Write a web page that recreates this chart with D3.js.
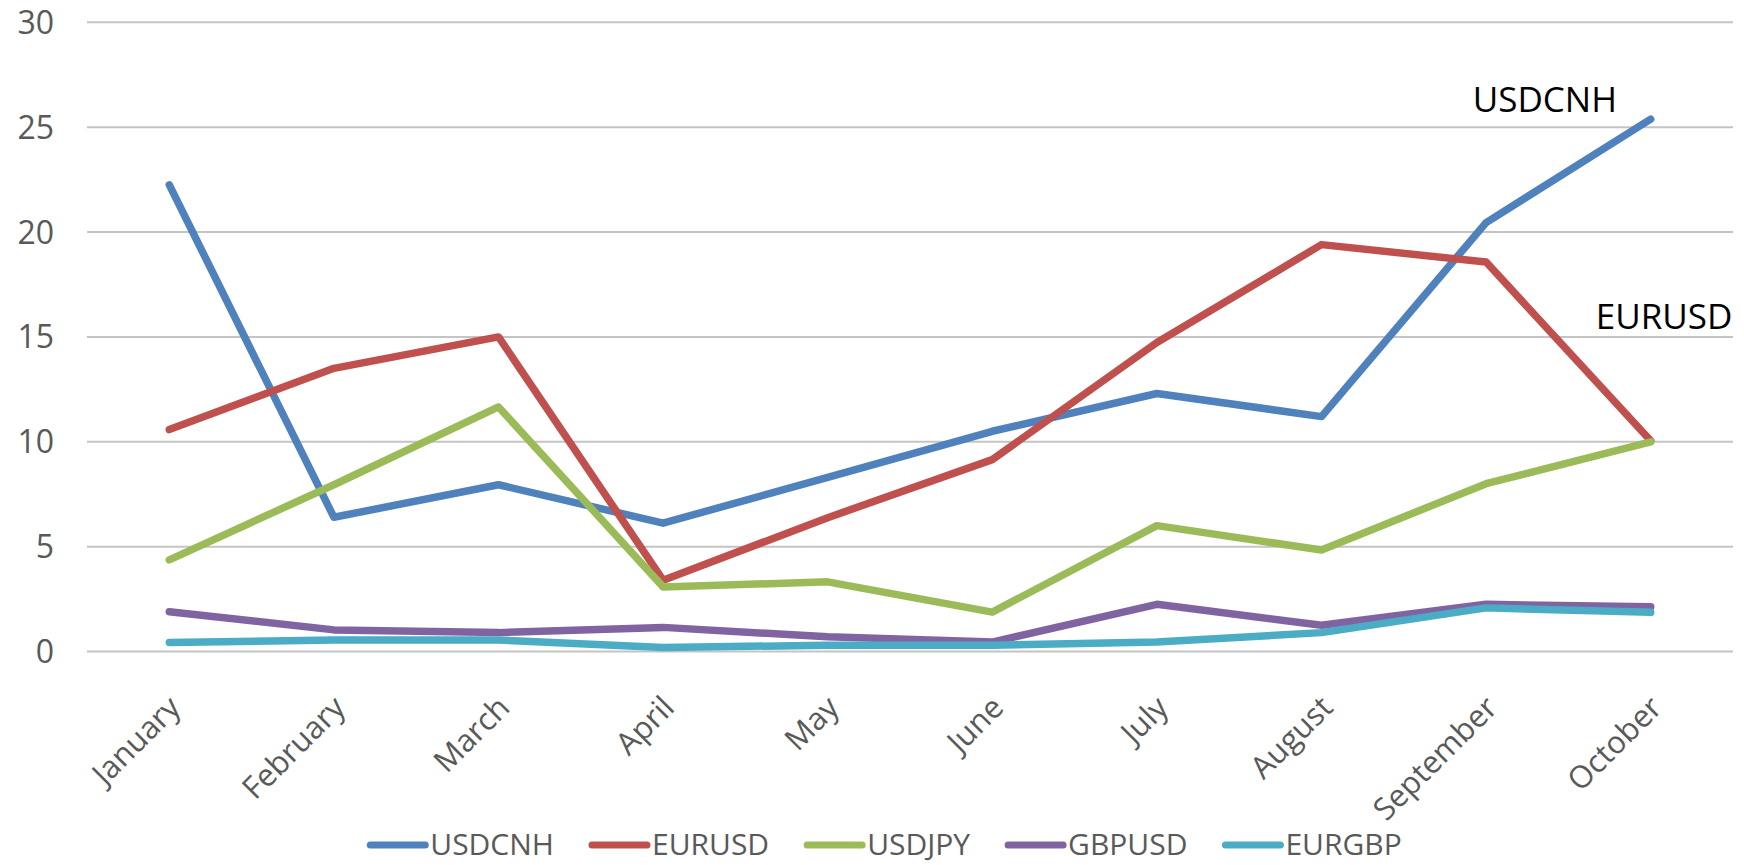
<!DOCTYPE html>
<html>
<head>
  <style>
    body {
      margin: 0;
      background: white;
    }
    text {
      font-family: "Open Sans", sans-serif;
    }
  </style>
</head>
<body>
  <script src="https://d3js.org/d3.v7.min.js"></script>
  <script>
    var width = 1744, height = 865;

    var months = ["January", "February", "March", "April", "May", "June",
                  "July", "August", "September", "October"];
    var seriesNames = ["USDCNH", "EURUSD", "USDJPY", "GBPUSD", "EURGBP"];
    var colors = ["#4f81bd", "#c0504d", "#9bbb59", "#8064a2", "#4bacc6"];

    var usdcnh = [22.25, 6.4, 7.95, 6.12, 8.3, 10.5, 12.3, 11.2, 20.45, 25.38];
    var eurusd = [10.58, 13.5, 15.0, 3.4, 6.38, 9.15, 14.73, 19.4, 18.57, 10.05];
    var usdjpy = [4.37, 7.95, 11.66, 3.08, 3.32, 1.88, 6.0, 4.84, 8.0, 10.0];
    var gbpusd = [1.9, 1.03, 0.9, 1.15, 0.7, 0.45, 2.25, 1.25, 2.25, 2.13];
    var eurgbp = [0.43, 0.55, 0.55, 0.19, 0.3, 0.3, 0.45, 0.9, 2.08, 1.87];
    var allValues = [usdcnh, eurusd, usdjpy, gbpusd, eurgbp];

    var yTicks = [0, 5, 10, 15, 20, 25, 30];

    // labels written next to the two biggest movers
    var notes = [
      {name: "USDCNH", month: "October", value: 25.38, dx: -178, dy: -7},
      {name: "EURUSD", month: "October", value: 15.4, dx: -55, dy: 0}
    ];

    var margin = {left: 87, right: 11, top: 22.3, bottom: 213.5};

    var svg = d3.select("body").append("svg")
        .attr("width", width)
        .attr("height", height);

    var x = d3.scalePoint()
        .domain(months)
        .range([margin.left, width - margin.right])
        .padding(0.5);

    var y = d3.scaleLinear()
        .domain([0, 30])
        .range([height - margin.bottom, margin.top]);

    // gridlines
    svg.append("g")
      .selectAll("line")
        .data(yTicks)
      .enter().append("line")
        .attr("x1", margin.left)
        .attr("x2", width - margin.right)
        .attr("y1", d => y(d))
        .attr("y2", d => y(d))
        .style("stroke", "#c4c4c4")
        .style("stroke-width", 2);

    // y axis labels
    svg.append("g")
      .selectAll("text")
        .data(yTicks)
      .enter().append("text")
        .attr("x", 54)
        .attr("y", d => y(d))
        .attr("dy", "0.36em")
        .attr("text-anchor", "end")
        .style("font-size", "32px")
        .style("fill", "#595959")
        .text(d => d);

    // month labels, turned 45 degrees
    svg.append("g")
      .selectAll("text")
        .data(months)
      .enter().append("text")
        .attr("transform", d => "translate(" + (x(d) + 13) + "," + (y(0) + 58) + ") rotate(-45)")
        .attr("text-anchor", "end")
        .style("font-size", "31px")
        .style("fill", "#595959")
        .text(d => d);

    var line = d3.line()
        .x((d, i) => x(months[i]))
        .y(d => y(d));

    svg.append("g")
      .selectAll("path")
        .data(allValues)
      .enter().append("path")
        .attr("d", d => line(d))
        .style("fill", "none")
        .style("stroke", (d, i) => colors[i])
        .style("stroke-width", 7.5)
        .style("stroke-linecap", "round")
        .style("stroke-linejoin", "round");

    // notes
    svg.append("g")
      .selectAll("text")
        .data(notes)
      .enter().append("text")
        .attr("x", d => x(d.month) + d.dx)
        .attr("y", d => y(d.value) + d.dy)
        .style("font-size", "35px")
        .style("fill", "black")
        .text(d => d.name);

    // legend
    var legend = svg.append("g");
    var lx = 0, gap = 38, lineLen = 55;
    seriesNames.forEach((name, i) => {
      var g = legend.append("g");
      g.append("line")
        .attr("x1", 0).attr("x2", lineLen)
        .attr("y1", 0).attr("y2", 0)
        .style("stroke", colors[i])
        .style("stroke-width", 7)
        .style("stroke-linecap", "round");
      var t = g.append("text")
        .attr("x", lineLen + 5)
        .attr("dy", "0.34em")
        .style("font-size", "30px")
        .style("fill", "#595959")
        .text(name);
      g.attr("transform", "translate(" + lx + ",0)");
      lx += lineLen + 5 + t.node().getComputedTextLength() + gap;
    });
    var legendWidth = lx - gap;
    legend.attr("transform", "translate(" + (886 - legendWidth / 2) + ",845)");
  </script>
</body>
</html>
